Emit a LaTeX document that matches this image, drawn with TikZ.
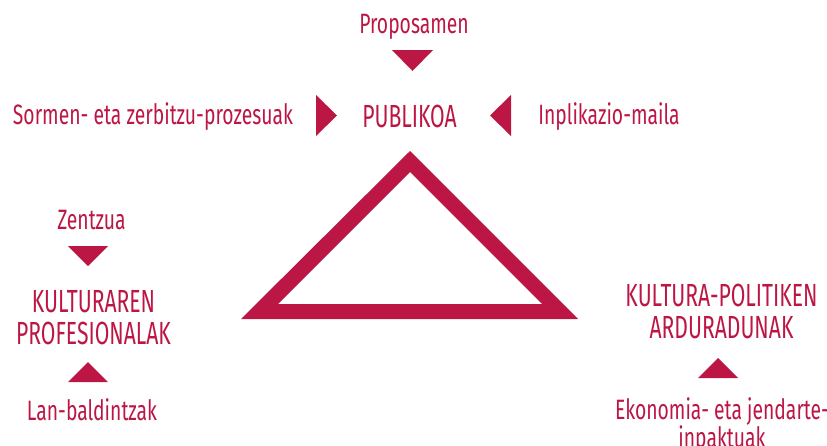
\documentclass[tikz,border=0pt]{standalone}
\usepackage{fontspec}
\setmainfont[FakeStretch=0.66]{Fira Sans}
\newfontfamily\etiketafont[FakeStretch=0.69]{Fira Sans}
\usetikzlibrary{positioning}
\definecolor{gorria}{RGB}{188,22,68}

\tikzset{
  etiketa/.style={text=gorria, inner sep=0pt, font=\etiketafont\fontsize{28}{27}\selectfont},
  eragile/.style={text=gorria, inner sep=0pt, align=center, font=\fontsize{32}{32}\selectfont},
  gezia/.style={fill=gorria},
}

\begin{document}
\begin{tikzpicture}[x=1pt,y=-1pt]
  \useasboundingbox (0,0) rectangle (827,445);

  % goiko multzoa
  \node[eragile, anchor=base] (publikoa) at (409.5,127) {PUBLIKOA};
  \node[etiketa, anchor=base] (proposamen) at (414,33) {Proposamen};
  \node[etiketa, anchor=base] (sormen) at (153,124) {Sormen- eta zerbitzu-prozesuak};
  \node[etiketa, anchor=base] (inplikazio) at (609,124) {Inplikazio-maila};
  \fill[gezia] (392,50) -- (433,50) -- (412.5,71) -- cycle;
  \fill[gezia] (316,95) -- (316,136) -- (337,115.5) -- cycle;
  \fill[gezia] (511,95) -- (511,136) -- (490,115.5) -- cycle;

  % ezkerreko multzoa
  \node[eragile, anchor=north] (profesionalak) at (93.5,290) {KULTURAREN\\PROFESIONALAK};
  \node[etiketa, anchor=base] (zentzua) at (91.5,229) {Zentzua};
  \node[etiketa, anchor=base] (lan) at (92,420) {Lan-baldintzak};
  \fill[gezia] (68,246) -- (108,246) -- (88,266) -- cycle;
  \fill[gezia] (68,382) -- (108,382) -- (88,362) -- cycle;

  % eskuineko multzoa
  \node[eragile, anchor=north] (arduradunak) at (721.5,284) {KULTURA-POLITIKEN\\ARDURADUNAK};
  \node[etiketa, anchor=north, align=center] (ekonomia) at (722,397) {Ekonomia- eta jendarte-\\inpaktuak};
  \fill[gezia] (698,378) -- (738,378) -- (718,358) -- cycle;

  % triangelua
  \fill[gezia, even odd rule] (241,319) -- (410,151) -- (578,319) -- cycle
    (278,304) -- (410,172) -- (542,304) -- cycle;
\end{tikzpicture}
\end{document}
